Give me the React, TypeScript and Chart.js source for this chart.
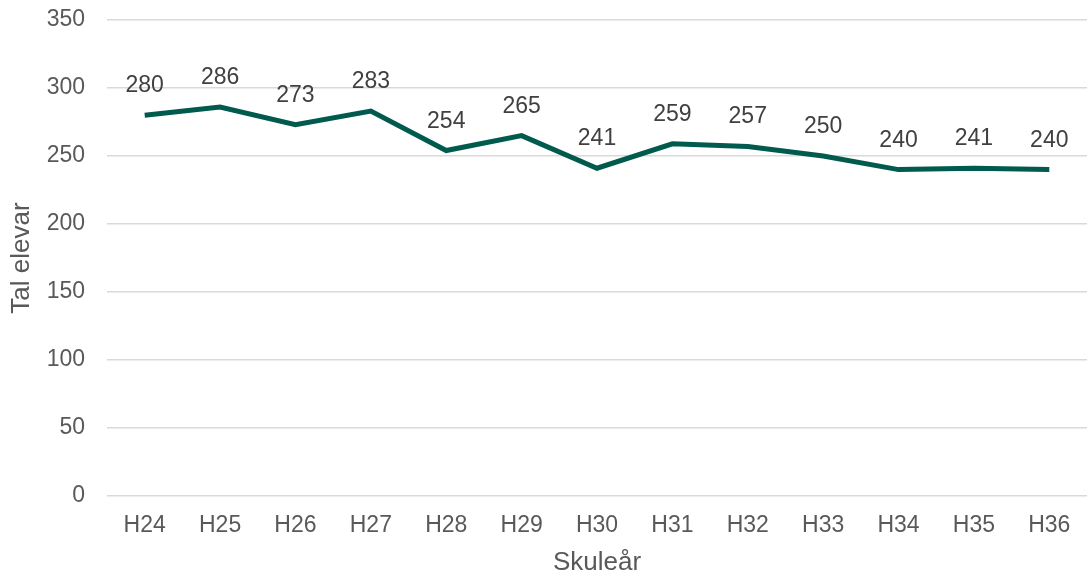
import React, { useEffect, useRef } from "react";
import { Chart, registerables } from "chart.js";

Chart.register(...registerables);

const categories = ["H24", "H25", "H26", "H27", "H28", "H29", "H30", "H31", "H32", "H33", "H34", "H35", "H36"];
const values = [280, 286, 273, 283, 254, 265, 241, 259, 257, 250, 240, 241, 240];
const yTitle = "Tal elevar";
const xTitle = "Skuleår";

const FONT = "'Liberation Sans', Arial, sans-serif";

const labelPlugin = {
  id: "pointLabels",
  afterDatasetsDraw(chart: any) {
    const ctx = chart.ctx;
    const meta = chart.getDatasetMeta(0);
    ctx.save();
    ctx.font = `23px ${FONT}`;
    ctx.fillStyle = "#404040";
    ctx.textAlign = "center";
    ctx.textBaseline = "alphabetic";
    meta.data.forEach((pt: any, i: number) => {
      ctx.fillText(String(values[i]), pt.x, pt.y - 23);
    });
    ctx.restore();
  },
};

export default function App() {
  const ref = useRef<HTMLCanvasElement>(null);
  useEffect(() => {
    document.body.style.margin = "0";
    const chart = new Chart(ref.current!, {
      type: "line",
      data: {
        labels: categories,
        datasets: [
          {
            data: values,
            borderColor: "#005A4E",
            borderWidth: 5,
            pointRadius: 0,
            tension: 0,
            fill: false,
          },
        ],
      },
      options: {
        animation: false,
        responsive: false,
        maintainAspectRatio: false,
        layout: { padding: { top: 20, right: 4, bottom: 0, left: 0 } },
        plugins: { legend: { display: false }, tooltip: { enabled: false } },
        scales: {
          x: {
            offset: true,
            afterFit: (s: any) => { s.height = 83; s.paddingLeft = 0; s.paddingRight = 0; },
            grid: { display: false, drawTicks: false },
            border: { display: false },
            ticks: { color: "#595959", font: { family: FONT, size: 23 }, padding: 16 },
            title: { display: true, text: xTitle, color: "#595959", font: { family: FONT, size: 26 }, padding: { top: 0, bottom: 1 } },
          },
          y: {
            min: 0,
            max: 350,
            afterFit: (s: any) => { s.width = 107; s.paddingTop = 0; s.paddingBottom = 0; },
            ticks: { stepSize: 50, color: "#595959", font: { family: FONT, size: 23 }, padding: 22 },
            grid: { color: "#d9d9d9", lineWidth: 1.5, drawTicks: false },
            border: { display: false },
            title: { display: true, text: yTitle, color: "#595959", font: { family: FONT, size: 26 }, padding: { top: 6, bottom: 0 } },
          },
        },
      },
      plugins: [labelPlugin],
    });
    return () => chart.destroy();
  }, []);
  return (
    <div style={{ width: 1091, height: 579 }}>
      <canvas ref={ref} width={1091} height={579} style={{ display: "block" }} />
    </div>
  );
}
